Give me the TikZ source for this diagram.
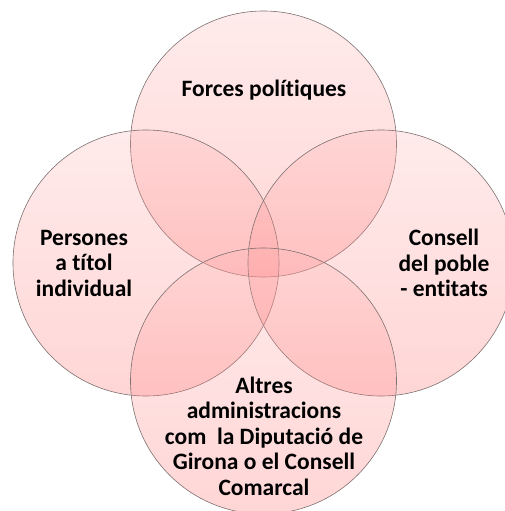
\documentclass[tikz,border=0pt]{standalone}
\usepackage{fontspec}
\setmainfont{Carlito}[Ligatures=NoCommon]
\usepackage{tikz}
\usetikzlibrary{positioning,calc}

\definecolor{petaltop}{RGB}{255,178,178}
\definecolor{petalbot}{RGB}{255,95,95}
\definecolor{petalrim}{RGB}{125,112,112}

\tikzset{
  petal/.style={draw=petalrim, line width=0.6pt, circle, minimum size=266pt, inner sep=0pt,
    top color=petaltop, bottom color=petalbot, fill opacity=0.26, draw opacity=1},
  lbl/.style={align=center, font=\fontsize{23.5}{25.5}\selectfont\bfseries, text=black}
}

\begin{document}
\begin{tikzpicture}[x=1pt,y=-1pt]
	\useasboundingbox (0,0) rectangle (505,511);
	% the four circles
	\node[petal] (forces) at (263.5,144) {};
	\node[petal] (persones) at (146,263) {};
	\node[petal] (consell) at (381,263) {};
	\node[petal] (altres) at (263.5,381) {};
	% labels
	\node[lbl] (tforces) at (264,90) {Forces polítiques};
	\node[lbl] (tpersones) at (84,263) {Persones\\a títol\\individual};
	\node[lbl] (tconsell) at (444,263) {Consell\\del poble\\- entitats};
	\node[lbl] (taltres) at (264,436) {Altres\\administracions\\com\ \ la Diputació de\\Girona o el Consell\\Comarcal};
\end{tikzpicture}
\end{document}
